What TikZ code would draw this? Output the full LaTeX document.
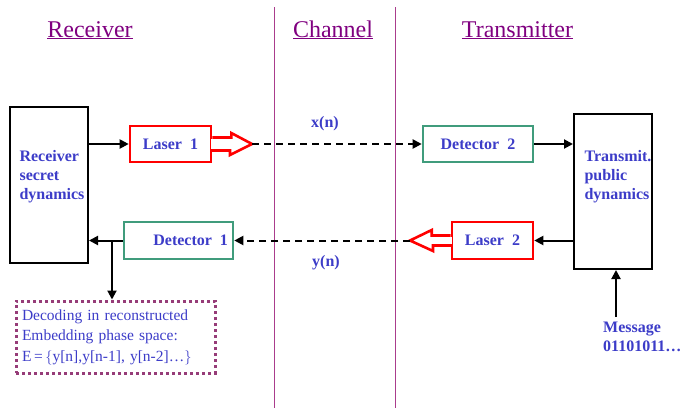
\documentclass[tikz,border=0pt]{standalone}
\usepackage{fontspec}
\setmainfont{Liberation Serif}
\usepackage{xcolor}
\usepackage{tikz}
\usetikzlibrary{positioning,arrows.meta}

\definecolor{ink}{RGB}{60,60,200}
\definecolor{headcol}{RGB}{128,0,128}
\definecolor{divcol}{RGB}{170,60,140}
\definecolor{lasred}{RGB}{255,0,0}
\definecolor{detgreen}{RGB}{64,156,124}
\definecolor{deccol}{RGB}{150,60,120}

\begin{document}
\begin{tikzpicture}[
  x=1pt, y=-1pt,
  font=\fontsize{16}{19}\selectfont\bfseries,
  every node/.style={text=ink},
  dyn/.style={draw=black, line width=2pt, minimum width=78pt, inner sep=0pt},
  boxtext/.style={align=left, anchor=west, label distance=0pt},
  laser/.style={draw=lasred, line width=2.6pt, minimum width=81pt, minimum height=36pt, inner sep=0pt},
  detector/.style={draw=detgreen, line width=2.6pt, minimum height=36pt, inner sep=0pt},
  beam/.style={draw=lasred, line width=2.6pt, line join=miter},
  gap/.style={draw=white, line width=3pt},
  arrow/.style={-{Triangle[length=9pt,width=9pt]}, draw=black, line width=2pt},
  link/.style={arrow, dash pattern=on 7pt off 5pt},
  decodebox/.style={draw=deccol, line width=3pt, dash pattern=on 3pt off 3pt, minimum width=199pt, minimum height=72pt, inner xsep=6pt, text width=187pt, align=left, font=\fontsize{15.5}{20.5}\selectfont},
  heading/.style={text=headcol, font=\fontsize{24}{28}\selectfont, anchor=base},
  divider/.style={draw=divcol, line width=1pt}
]
\useasboundingbox (0,0) rectangle (688,416);

% headings and dividers
\node[heading] (hrx) at (90,37) {\underline{Receiver}};
\node[heading] (hch) at (333,37) {\underline{Channel}};
\node[heading] (htx) at (517.5,37) {\underline{Transmitter}};
\draw[divider] (274,7) -- (274,408);
\draw[divider] (395,7) -- (395,408);

% dynamics blocks
\node[dyn, minimum height=156pt, label={[boxtext, xshift=7pt, yshift=8pt]west:{Receiver\\secret\\dynamics}}] (rx) at (49,185) {};
\node[dyn, minimum height=155pt, label={[boxtext, xshift=8pt, yshift=14.5pt]west:{Transmit.\\public\\dynamics}}] (tx) at (613,191.5) {};

% lasers and detectors
\node[laser] (laser1) at (170.5,144) {Laser\enspace1};
\node[detector, minimum width=110pt] (det2) at (478,144) {Detector\enspace2};
\node[laser, minimum height=37pt] (laser2) at (492.5,240.5) {Laser\enspace2};
\node[detector, minimum width=109pt, minimum height=37pt, inner xsep=5pt, text width=99pt, align=right] (det1) at (178.5,240.5) {Detector\enspace1};

\coordinate (tip1) at (252,144);
\coordinate (tip2) at (410,240.5);
\draw[gap] ([yshift=5.2pt]laser1.east) -- ([yshift=-5.2pt]laser1.east);
\draw[beam] ([yshift=6.5pt]laser1.east) -- ++(19,0) -- ++(0,-4.5) -- (tip1) -- ++(-22,11) -- ++(0,-4.5) -- ++(-19,0);
\draw[gap] ([yshift=3.7pt]laser2.west) -- ([yshift=-3.7pt]laser2.west);
\draw[beam] ([yshift=5pt]laser2.west) -- ++(-19,0) -- ++(0,-5.5) -- (tip2) -- ++(23,10.5) -- ++(0,-5.5) -- ++(19,0);

% decoding and message
\node[decodebox] (dec) at (115.5,337) {Decoding in reconstructed\\Embedding phase space:\\E\,=\,\(\big\{\)y[n],y[n-1], y[n-2]\ldots\(\big\}\)};
\node[anchor=north west, align=left, inner sep=0pt] (msg) at (603,322) {Message\\01101011\ldots};
\coordinate (msgin) at (616,317);
\coordinate (tap) at (112,240.5);

% signals
\node (xn) at (325,124) {x(n)};
\node (yn) at (326,263) {y(n)};

\draw[arrow] (rx.east |- laser1) -- (laser1);
\draw[link] (tip1) -- (det2);
\draw[arrow] (det2) -- (det2 -| tx.west);
\draw[arrow] (tx.west |- laser2) -- (laser2);
\draw[link] (tip2) -- (det1);
\draw[arrow] (det1) -- (det1 -| rx.east);
\draw[arrow] (tap) -- (tap |- dec.north);
\draw[arrow] (msgin) -- (msgin |- tx.south);
\end{tikzpicture}
\end{document}
